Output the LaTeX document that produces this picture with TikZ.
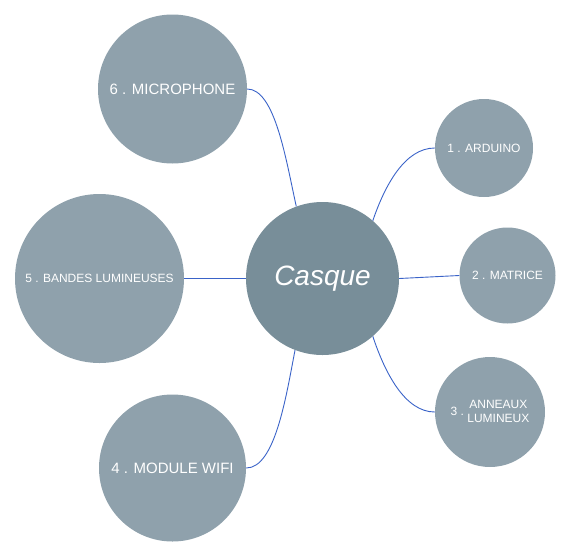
\documentclass[tikz,border=0pt]{standalone}
\usepackage{fontspec}
\setmainfont{Liberation Sans}
\definecolor{outerc}{HTML}{8FA1AC}
\definecolor{innerc}{HTML}{788E99}
\definecolor{linkc}{HTML}{3A63C8}
\begin{document}
\begin{tikzpicture}[x=1pt,y=-1pt,
  bubble/.style={circle,fill=outerc,draw=none,inner sep=0pt,text=white,align=center},
  link/.style={draw=linkc,line width=0.9pt}]
\useasboundingbox (0,0) rectangle (572,557);
\node[circle,fill=innerc,inner sep=0pt,minimum size=153pt,text=white,font=\fontsize{28}{30}\selectfont\itshape] (casque) at (322.5,278.5) {Casque};
\node[bubble,minimum size=149pt,font=\fontsize{15}{18}\selectfont] (mic) at (172.5,89) {6 . MICROPHONE};
\node[bubble,minimum size=169pt,font=\fontsize{12}{14}\selectfont] (bandes) at (99.5,278.5) {5 . BANDES LUMINEUSES};
\node[bubble,minimum size=147pt,font=\fontsize{15}{18}\selectfont] (wifi) at (172.5,468) {4 . MODULE WIFI};
\node[bubble,minimum size=98pt,font=\fontsize{12}{14}\selectfont] (ard) at (484,148) {1 . ARDUINO};
\node[bubble,minimum size=96pt,font=\fontsize{12}{14}\selectfont] (mat) at (507.5,275.5) {2 . MATRICE};
\node[bubble,minimum size=110pt,font=\fontsize{12}{15}\selectfont] (ann) at (490,412) {3 .\ \begin{tabular}{@{}c@{}}ANNEAUX\\[-1pt]LUMINEUX\end{tabular}};
\draw[link] (mic.east) .. controls (275,89) and (286,160) .. (casque.110);
\draw[link] (bandes.east) -- (casque.west);
\draw[link] (wifi.east) .. controls (275,468) and (286,397) .. (casque.249);
\draw[link] (casque.49) .. controls (385,185) and (405,148) .. (ard.west);
\draw[link] (casque.east) -- (mat.west);
\draw[link] (casque.-49) .. controls (385,373) and (405,412) .. (ann.west);
\end{tikzpicture}
\end{document}
